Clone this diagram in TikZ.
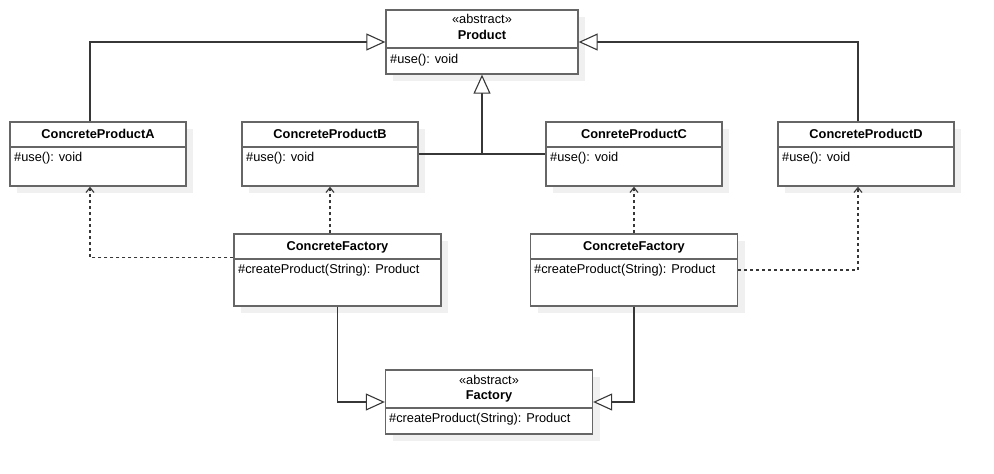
\documentclass[tikz,border=0pt]{standalone}
\usepackage{fontspec}
\setmainfont{Liberation Sans}
\usetikzlibrary{arrows.meta,shadows}
\definecolor{boxgray}{RGB}{102,102,102}
\definecolor{linegray}{RGB}{55,55,55}

\begin{document}
\begin{tikzpicture}[x=1pt, y=-1pt, font=\fontsize{12.8}{15}\selectfont,
  cls/.style={shape=rectangle, draw=boxgray, line width=1.3pt, fill=white, inner sep=0pt, minimum width=#1,
    drop shadow={shadow xshift=7pt, shadow yshift=-7pt, fill=black!6, opacity=1}},
  sep/.style={path picture={\draw[boxgray, line width=1.3pt] ([yshift=-#1]path picture bounding box.north west) -- ([yshift=-#1]path picture bounding box.north east);}},
  ttl/.style={font=\fontsize{12.8}{15}\selectfont\bfseries, inner sep=0pt, text height=9.2pt, text depth=0pt},
  stereo/.style={inner sep=0pt, text height=9.2pt, text depth=0pt},
  op/.style={anchor=west, inner sep=0pt, text height=9.2pt, text depth=0pt},
  genline/.style={draw=linegray, line width=1.1pt},
  gen/.style={genline, -{Triangle[open, length=19pt, width=17pt, fill=white]}},
  dep/.style={draw=linegray, line width=1.1pt, dash pattern=on 3pt off 3pt, -{Straight Barb[length=5pt, width=8pt]}}]
\useasboundingbox (0,0) rectangle (994,474);
\node[cls=192pt, minimum height=64pt, sep=38pt] (P) at (482,42) {};
\node[stereo] (Ps) at (482,19) {«abstract»};
\node[ttl] (Pn) at (482,35) {Product};
\node[op] (Po) at (390,59) {\#use(): void};
\node[cls=176pt, minimum height=64pt, sep=25pt] (A) at (98,154) {};
\node[ttl] (An) at (98,134) {ConcreteProductA};
\node[op] (Ao) at (14,157) {\#use(): void};
\node[cls=176pt, minimum height=64pt, sep=25pt] (B) at (330,154) {};
\node[ttl] (Bn) at (330,134) {ConcreteProductB};
\node[op] (Bo) at (246,157) {\#use(): void};
\node[cls=176pt, minimum height=64pt, sep=25pt] (C) at (634,154) {};
\node[ttl] (Cn) at (634,134) {ConreteProductC};
\node[op] (Co) at (550,157) {\#use(): void};
\node[cls=176pt, minimum height=64pt, sep=25pt] (D) at (866,154) {};
\node[ttl] (Dn) at (866,134) {ConcreteProductD};
\node[op] (Do) at (782,157) {\#use(): void};
\node[cls=207pt, minimum height=72pt, sep=25pt] (F1) at (337.5,270) {};
\node[ttl] (F1n) at (337.5,246) {ConcreteFactory};
\node[op] (F1o) at (238,269) {\#createProduct(String): Product};
\node[cls=207pt, minimum height=72pt, sep=25pt] (F2) at (634,270) {};
\node[ttl] (F2n) at (634,246) {ConcreteFactory};
\node[op] (F2o) at (534,269) {\#createProduct(String): Product};
\node[cls=207pt, minimum height=64pt, sep=38pt] (F) at (489,402) {};
\node[stereo] (Fs) at (489,380) {«abstract»};
\node[ttl] (Fn) at (489,395) {Factory};
\node[op] (Fo) at (389,418) {\#createProduct(String): Product};
\draw[gen] ([xshift=-8pt]A.north) |- (P.west);
\draw[gen] ([xshift=-8pt]D.north) |- (P.east);
\draw[genline] (B.east) -- (C.west);
\draw[gen] (B.east -| P.south) -- (P.south);
\draw[dep] ([yshift=-24pt]F1.north west) -| ([xshift=-8pt]A.south);
\draw[dep] (F1.north -| B.south) -- (B.south);
\draw[dep] (F2.north) -- (C.south);
\draw[dep] (F2.east) -| ([xshift=-8pt]D.south);
\draw[gen] (F1.south) |- (F.west);
\draw[gen] (F2.south) |- (F.east);
\end{tikzpicture}
\end{document}
